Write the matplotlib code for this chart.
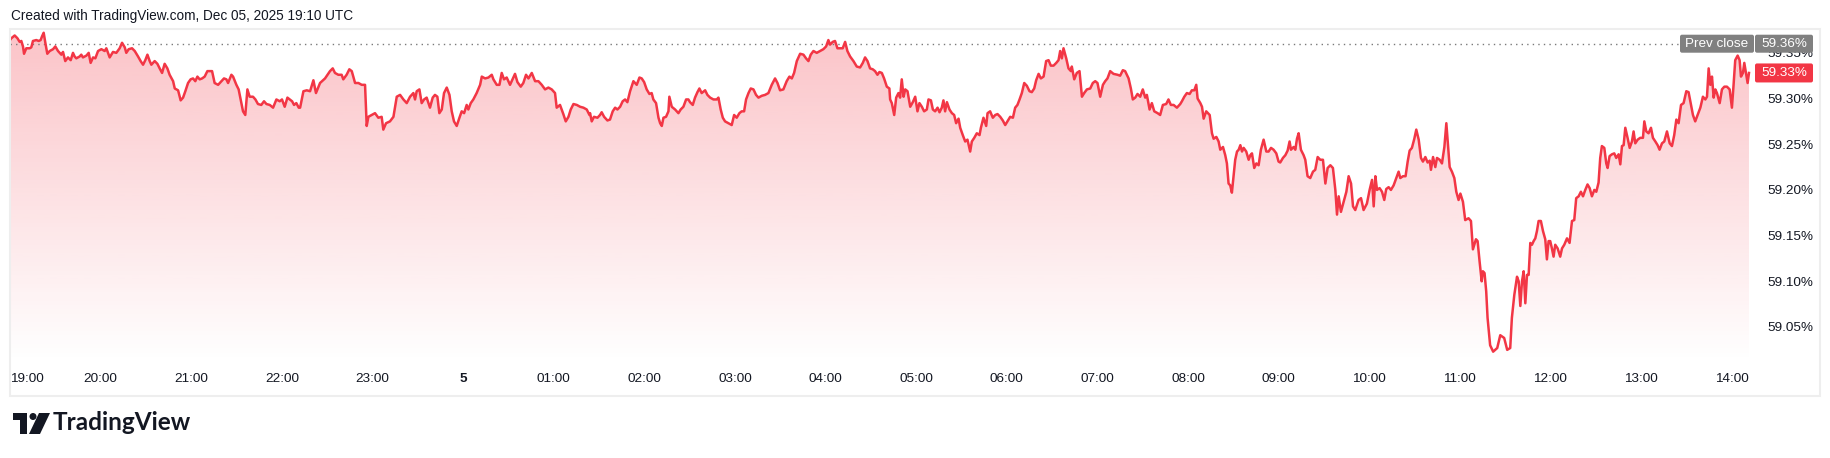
import numpy as np
import matplotlib.pyplot as plt
from matplotlib.patches import FancyBboxPatch, Rectangle, Polygon, Circle
from matplotlib.transforms import IdentityTransform

# minutes after 19:00 (Dec 4) and value in %
minutes = [
    0, 0.9, 3.1, 4.9, 6.4, 7.5, 8.6, 9.3, 10.8, 13.0, 14.1, 15.2, 17.4, 19.0, 20.3, 21.2, 22.3, 23.4, 24.7, 26.3,
    28.5, 30.0, 31.8, 34.0, 35.1, 36.6, 38.4, 40.2, 41.7, 42.8, 43.9, 46.1, 47.2, 48.3, 50.6, 52.1, 53.4, 55.0, 56.5, 58.3,
    60.5, 62.7, 63.8, 64.9, 66.0, 68.2, 70.4, 72.6, 74.2, 76.0, 77.0, 78.6, 80.8, 82.6, 84.8, 86.5, 88.1, 89.6, 91.0, 92.5,
    93.6, 95.8, 97.6, 99.1, 100.7, 102.4, 104.2, 105.7, 108.0, 109.1, 111.3, 113.0, 114.6, 116.1, 117.9, 119.6, 121.2, 122.7, 124.1, 125.6,
    127.2, 128.9, 130.7, 132.2, 133.8, 135.5, 137.8, 140.0, 141.7, 143.3, 144.4, 146.6, 147.7, 149.9, 151.4, 153.2, 154.3, 155.8, 157.2, 158.7,
    160.9, 162.5, 164.2, 166.4, 168.2, 169.8, 172.0, 174.2, 176.4, 178.6, 180.1, 181.9, 183.7, 185.2, 186.8, 188.1, 189.6, 191.2,
    192.1, 194.3, 196.5, 198.7, 200.9, 202.6, 205.3, 208.6, 211.9, 213.7, 215.2, 217.4, 219.6, 220.7, 222.9, 224.7, 226.3, 228.5, 230.7, 232.9,
    235.1, 236.2, 237.3, 239.5, 241.7, 243.9, 246.1, 247.2, 249.0, 251.6, 253.9, 256.1, 258.3, 260.5, 262.7, 264.9, 267.1, 268.2, 269.3, 271.1,
    272.6, 274.2, 275.9, 278.1, 279.9, 281.4, 283.0, 284.3, 285.9, 287.4, 289.2, 291.0, 292.5, 294.0, 295.8, 297.6, 299.1, 300.7, 302.4, 303.5,
    305.1, 306.8, 309.0, 311.3, 312.4, 314.6, 316.8, 319.0, 320.1, 322.3, 324.1, 325.6, 327.1, 328.9, 331.1, 332.2, 334.4, 336.0, 338.2, 339.9,
    341.7, 343.3, 345.5, 347.7, 349.9, 352.1, 354.3, 356.5, 358.7, 360.9, 362.0, 364.2, 366.4, 368.0, 369.8, 371.3, 373.1, 375.3, 377.5, 379.7,
    381.9, 383.7,
    384.1, 385.2, 386.7, 389.0, 390.7, 391.8, 393.4, 395.6, 397.3, 399.1, 400.7, 402.2, 404.0, 405.7, 407.3, 408.8, 410.6, 412.8, 415.0, 416.8,
    418.3, 419.9, 421.6, 423.4, 424.9, 426.0, 427.8, 429.4, 430.5, 431.6, 432.7, 434.4, 436.0, 436.6, 438.2, 440.4, 442.6, 444.1, 445.9, 447.7,
    449.2, 450.3, 452.1, 453.6, 455.2, 456.5, 458.0, 460.3, 461.8, 463.6, 465.8, 468.0, 469.1, 470.6, 472.0, 473.5, 475.7, 477.9, 479.5, 481.2,
    483.0, 484.5, 486.1, 487.4, 489.0, 490.5, 492.3, 494.0, 495.6, 497.8, 500.0, 502.2, 504.4, 506.6, 508.2, 509.9, 512.1, 514.3, 516.1, 517.7,
    519.2, 521.0, 523.2, 525.4, 527.1, 528.7, 530.2, 532.0, 534.2, 536.4, 538.6, 540.4, 541.9, 543.0, 544.8, 546.3, 547.9, 549.7, 551.4, 553.0,
    554.5, 556.3, 558.5, 560.7, 562.9, 564.7, 566.2, 567.8, 569.5, 571.3, 572.8, 574.4, 575.7, 577.3, 578.8, 580.6, 582.3, 582.8,
    583.9, 585.5, 586.8, 588.3, 589.4, 590.5, 591.7, 592.8, 594.3, 596.1, 597.8, 599.4, 600.9, 602.2, 603.8, 605.3, 607.1, 608.2, 609.8, 611.1,
    612.6, 614.2, 615.5, 617.0, 618.1, 619.2, 620.4, 622.1, 623.7, 625.2, 626.5, 628.1, 629.2, 630.9, 632.5, 634.0, 635.8, 636.9, 638.5, 640.2,
    642.0, 642.9, 644.6, 646.4, 647.3, 649.0, 650.8, 652.4, 653.9, 655.7, 657.4, 659.0, 660.5, 662.3, 664.1, 665.6, 667.1, 668.5, 670.0, 671.6,
    673.3, 675.1, 676.6, 678.2, 679.5, 681.1, 682.6, 684.4, 686.1, 687.7, 689.2, 691.0, 692.8, 694.3, 695.4, 696.5, 697.6, 699.4, 700.9, 702.5,
    703.1, 704.7, 706.4, 708.2, 709.8, 711.3, 713.1, 715.3, 717.0, 718.6, 720.1, 721.9, 723.7, 725.2, 726.7, 728.5, 730.7, 733.4, 735.1, 736.9,
    738.4, 740.7, 742.2, 743.5, 745.1, 746.6, 748.4, 750.1, 751.7, 752.8, 754.6, 756.1, 757.7, 759.9, 761.6, 763.4, 765.6, 767.1, 768.7, 770.5,
    772.7, 774.9,
    776.0, 777.6, 779.3, 781.1, 782.6, 784.2, 785.5, 786.4, 788.2, 789.3, 790.4, 792.1, 794.4, 795.9, 797.0, 798.8, 800.3, 801.4, 803.2, 804.7,
    805.8, 806.9, 808.0, 809.1, 810.2, 811.3, 812.5, 813.6, 814.7, 815.8, 816.9, 818.6, 820.2, 821.3, 822.4, 823.9, 825.3, 826.8, 828.3, 830.1,
    831.9, 833.4, 835.0, 836.7, 838.5, 840.0, 841.1, 842.9, 844.5, 846.0, 847.3, 848.2, 850.0, 851.1, 852.2, 853.3, 854.8, 856.6, 857.7, 859.2,
    861.0, 862.8, 864.3, 865.9, 867.6, 869.4, 871.0, 872.5, 874.3, 876.0, 877.6, 878.7, 879.8, 881.3, 883.1, 884.9, 886.4, 888.0, 889.3, 890.8,
    893.0, 894.6, 896.3, 898.5, 900.3, 901.9, 903.0, 904.1, 905.2, 906.9, 908.5, 910.0, 911.3, 912.9, 914.4, 916.2, 918.0, 919.5, 920.6, 922.4,
    924.1, 925.5, 926.8, 928.3, 929.9, 931.2, 932.8, 934.3, 935.6, 937.2, 938.7, 940.1, 940.9, 942.3, 943.8, 944.9, 946.7, 948.2, 949.8, 951.1,
    952.0, 953.3, 954.8, 956.4, 957.7, 959.2, 960.4, 962.1,
    963.6, 965.8, 967.4, 968.7, 970.7, 971.8, 973.1, 974.5, 975.3, 976.4, 977.5, 978.4,
    980.1, 982.1, 984.8, 986.8, 989.4, 991.4, 993.4,
    994.5, 996.1, 997.9, 999.0, 1000.1, 1001.2, 1002.3, 1003.4, 1004.5, 1005.6, 1006.7, 1007.8, 1008.9, 1010.0, 1011.1, 1012.2, 1013.7, 1015.1,
    1016.6, 1017.7, 1018.8, 1019.9, 1021.0, 1022.1, 1023.2, 1024.8, 1026.5, 1027.7, 1029.2, 1031.0, 1032.7, 1034.3, 1035.8, 1037.1, 1038.7, 1040.2,
    1041.6, 1043.1, 1044.6, 1046.0, 1047.5, 1049.1, 1050.4, 1051.9, 1053.0, 1054.1, 1055.7, 1057.0, 1057.9, 1059.2, 1060.8, 1062.3, 1063.6, 1065.2,
    1066.3, 1067.4, 1068.5, 1069.6, 1071.1, 1072.5, 1074.0, 1075.1, 1076.2, 1077.8, 1079.5, 1081.3, 1082.2, 1083.5, 1085.0, 1086.6, 1087.9, 1089.5,
    1091.0, 1092.3, 1093.9, 1095.4, 1097.2, 1099.0, 1100.5, 1102.0, 1103.4, 1104.9, 1106.5, 1108.2, 1110.0, 1111.5, 1113.1, 1114.4, 1115.9, 1117.5,
    1119.3, 1121.0, 1122.6, 1123.7, 1124.8, 1125.9, 1127.0, 1128.1, 1129.2, 1130.3, 1132.1, 1133.6, 1135.2, 1136.9, 1138.7, 1140.2, 1141.3, 1142.4,
    1144.0, 1145.3, 1146.2, 1147.5, 1148.4, 1149.7, 1150.6, 1151.5,
]
values = [
    59.364, 59.366, 59.369, 59.366, 59.362, 59.363, 59.357, 59.349, 59.355, 59.355, 59.356, 59.363, 59.364, 59.363, 59.364, 59.368, 59.372, 59.361, 59.349, 59.352,
    59.354, 59.357, 59.352, 59.348, 59.351, 59.341, 59.345, 59.342, 59.350, 59.346, 59.344, 59.346, 59.348, 59.345, 59.347, 59.350, 59.339, 59.345, 59.344, 59.352,
    59.354, 59.352, 59.355, 59.350, 59.345, 59.351, 59.350, 59.355, 59.361, 59.356, 59.350, 59.354, 59.355, 59.352, 59.346, 59.341, 59.337, 59.342, 59.348, 59.341,
    59.337, 59.341, 59.338, 59.333, 59.328, 59.338, 59.333, 59.326, 59.319, 59.311, 59.309, 59.298, 59.301, 59.308, 59.317, 59.321, 59.322, 59.319, 59.324, 59.321,
    59.322, 59.324, 59.330, 59.330, 59.330, 59.317, 59.315, 59.319, 59.322, 59.321, 59.317, 59.326, 59.324, 59.315, 59.310, 59.295, 59.286, 59.282, 59.310, 59.302,
    59.302, 59.299, 59.294, 59.293, 59.297, 59.294, 59.293, 59.290, 59.299, 59.297, 59.299, 59.291, 59.301, 59.299, 59.297, 59.293, 59.295, 59.290,
    59.290, 59.308, 59.309, 59.308, 59.320, 59.306, 59.317, 59.322, 59.330, 59.333, 59.328, 59.326, 59.326, 59.321, 59.326, 59.332, 59.330, 59.317, 59.317, 59.315,
    59.315, 59.270, 59.280, 59.282, 59.284, 59.279, 59.280, 59.266, 59.273, 59.275, 59.280, 59.302, 59.304, 59.299, 59.295, 59.302, 59.306, 59.299, 59.308, 59.310,
    59.295, 59.299, 59.301, 59.290, 59.301, 59.304, 59.302, 59.284, 59.288, 59.306, 59.312, 59.304, 59.286, 59.275, 59.270, 59.279, 59.286, 59.284, 59.293, 59.288,
    59.295, 59.299, 59.306, 59.315, 59.324, 59.322, 59.323, 59.326, 59.321, 59.315, 59.315, 59.328, 59.321, 59.323, 59.315, 59.319, 59.327, 59.318, 59.313, 59.317,
    59.326, 59.322, 59.328, 59.319, 59.319, 59.315, 59.310, 59.312, 59.310, 59.306, 59.290, 59.293, 59.283, 59.275, 59.280, 59.288, 59.294, 59.293, 59.291, 59.290,
    59.288, 59.282,
    59.284, 59.275, 59.280, 59.279, 59.282, 59.285, 59.280, 59.276, 59.277, 59.286, 59.290, 59.288, 59.291, 59.297, 59.299, 59.296, 59.308, 59.319, 59.315, 59.323,
    59.322, 59.318, 59.310, 59.305, 59.306, 59.299, 59.295, 59.279, 59.273, 59.270, 59.279, 59.280, 59.286, 59.302, 59.291, 59.288, 59.284, 59.288, 59.291, 59.299,
    59.299, 59.296, 59.293, 59.301, 59.307, 59.311, 59.306, 59.309, 59.304, 59.301, 59.299, 59.299, 59.301, 59.288, 59.279, 59.275, 59.273, 59.271, 59.282, 59.279,
    59.284, 59.286, 59.286, 59.299, 59.306, 59.311, 59.310, 59.304, 59.301, 59.303, 59.304, 59.306, 59.315, 59.322, 59.317, 59.309, 59.310, 59.319, 59.324, 59.322,
    59.328, 59.341, 59.349, 59.348, 59.344, 59.341, 59.348, 59.352, 59.350, 59.352, 59.354, 59.357, 59.364, 59.359, 59.362, 59.363, 59.355, 59.355, 59.355, 59.362,
    59.352, 59.346, 59.341, 59.335, 59.334, 59.339, 59.345, 59.341, 59.333, 59.332, 59.330, 59.326, 59.329, 59.328, 59.322, 59.313, 59.311, 59.299,
    59.295, 59.282, 59.301, 59.306, 59.301, 59.321, 59.302, 59.310, 59.308, 59.291, 59.296, 59.302, 59.286, 59.295, 59.291, 59.286, 59.288, 59.299, 59.298, 59.288,
    59.286, 59.290, 59.285, 59.290, 59.298, 59.286, 59.296, 59.288, 59.284, 59.282, 59.273, 59.278, 59.268, 59.260, 59.253, 59.255, 59.242, 59.253, 59.257, 59.262,
    59.260, 59.268, 59.279, 59.270, 59.284, 59.286, 59.279, 59.282, 59.283, 59.280, 59.276, 59.271, 59.275, 59.280, 59.279, 59.290, 59.293, 59.299, 59.306, 59.317,
    59.314, 59.308, 59.307, 59.311, 59.320, 59.327, 59.322, 59.324, 59.341, 59.342, 59.336, 59.336, 59.339, 59.342, 59.352, 59.344, 59.355, 59.344, 59.333, 59.330,
    59.335, 59.321, 59.328, 59.330, 59.302, 59.306, 59.310, 59.311, 59.317, 59.319, 59.317, 59.302, 59.315, 59.319, 59.322, 59.330, 59.327, 59.326, 59.325, 59.331,
    59.330, 59.322, 59.311, 59.299, 59.301, 59.305, 59.302, 59.310, 59.301, 59.304, 59.288, 59.295, 59.286, 59.284, 59.282, 59.293, 59.294, 59.299, 59.293, 59.293,
    59.290, 59.294,
    59.297, 59.302, 59.306, 59.305, 59.309, 59.309, 59.315, 59.300, 59.295, 59.291, 59.278, 59.286, 59.282, 59.262, 59.256, 59.258, 59.253, 59.244, 59.247, 59.238,
    59.229, 59.207, 59.205, 59.197, 59.215, 59.233, 59.242, 59.244, 59.249, 59.242, 59.246, 59.242, 59.233, 59.238, 59.240, 59.224, 59.229, 59.227, 59.244, 59.255,
    59.242, 59.242, 59.246, 59.244, 59.240, 59.231, 59.230, 59.235, 59.238, 59.243, 59.253, 59.244, 59.247, 59.244, 59.256, 59.262, 59.244, 59.238, 59.233, 59.215,
    59.213, 59.220, 59.222, 59.236, 59.233, 59.233, 59.207, 59.224, 59.227, 59.224, 59.200, 59.173, 59.193, 59.176, 59.187, 59.198, 59.215, 59.207, 59.182, 59.178,
    59.189, 59.191, 59.178, 59.185, 59.200, 59.211, 59.182, 59.215, 59.200, 59.202, 59.198, 59.189, 59.201, 59.203, 59.200, 59.205, 59.213, 59.220, 59.213, 59.215,
    59.215, 59.231, 59.243, 59.246, 59.256, 59.266, 59.255, 59.235, 59.231, 59.236, 59.230, 59.232, 59.222, 59.236, 59.225, 59.235, 59.233, 59.229, 59.247, 59.273,
    59.253, 59.225, 59.220, 59.213, 59.198, 59.189, 59.196, 59.187,
    59.167, 59.169, 59.166, 59.135, 59.146, 59.144, 59.122, 59.100, 59.111, 59.109, 59.089, 59.060,
    59.030, 59.023, 59.027, 59.041, 59.038, 59.025, 59.027,
    59.060, 59.085, 59.105, 59.100, 59.073, 59.100, 59.111, 59.076, 59.107, 59.107, 59.142, 59.140, 59.144, 59.147, 59.155, 59.166, 59.166, 59.155,
    59.146, 59.124, 59.144, 59.144, 59.136, 59.127, 59.140, 59.136, 59.127, 59.136, 59.140, 59.147, 59.142, 59.166, 59.167, 59.191, 59.193, 59.198,
    59.193, 59.200, 59.206, 59.202, 59.193, 59.200, 59.198, 59.208, 59.235, 59.248, 59.246, 59.229, 59.224, 59.237, 59.239, 59.240, 59.235, 59.239,
    59.228, 59.248, 59.249, 59.268, 59.257, 59.246, 59.253, 59.264, 59.251, 59.255, 59.257, 59.257, 59.275, 59.264, 59.262, 59.268, 59.257, 59.253,
    59.249, 59.244, 59.251, 59.253, 59.264, 59.251, 59.248, 59.260, 59.277, 59.273, 59.293, 59.295, 59.308, 59.307, 59.293, 59.282, 59.275, 59.282,
    59.290, 59.302, 59.299, 59.302, 59.333, 59.315, 59.324, 59.301, 59.310, 59.306, 59.295, 59.310, 59.313, 59.313, 59.310, 59.290, 59.315, 59.342,
    59.347, 59.342, 59.324, 59.328, 59.339, 59.326, 59.317, 59.328,
]

prev_close = 59.36
time_ticks = [0, 60, 120, 180, 240, 300, 360, 420, 480, 540, 600, 660, 720, 780, 840, 900, 960, 1020, 1080, 1140]
time_labels = ["19:00", "20:00", "21:00", "22:00", "23:00", "5", "01:00", "02:00", "03:00", "04:00",
               "05:00", "06:00", "07:00", "08:00", "09:00", "10:00", "11:00", "12:00", "13:00", "14:00"]
price_ticks = [59.05, 59.10, 59.15, 59.20, 59.25, 59.30, 59.35]

RED = "#f23645"
TXT = "#131722"
GRAY = "#808080"

plt.rcParams['font.family'] = ['Liberation Sans', 'DejaVu Sans']

W, H = 1831, 458
fig = plt.figure(figsize=(W / 100, H / 100), dpi=100)
pix = IdentityTransform()

# plot area in pixels: x 10..1752, y 30..362 (from top)
ax = fig.add_axes([10 / W, 1 - 362 / H, 1742 / W, 332 / H])
xmax = 1153.5
ymin, ymax = 59.0117, 59.375

# gradient area under the line
fill = ax.fill_between(minutes, values, ymin, color="none", lw=0)
grad = np.zeros((256, 1, 4))
grad[..., :3] = plt.matplotlib.colors.to_rgb(RED)
grad[:, 0, 3] = np.linspace(0.30, 0.0, 256)
im = ax.imshow(grad, extent=[0, xmax, ymin, ymax], aspect="auto", origin="upper", zorder=1)
im.set_clip_path(fill.get_paths()[0], transform=ax.transData)

ax.plot(minutes, values, color=RED, lw=1.8, zorder=3, solid_joinstyle="round")
ax.axhline(prev_close, color="#7a7a7a", lw=1, ls=(0, (1, 3)), zorder=2)

ax.set_xlim(0, xmax)
ax.set_ylim(ymin, ymax)
for s in ax.spines.values():
    s.set_visible(False)

ax.set_xticks(time_ticks)
ax.set_xticklabels(time_labels)
ax.tick_params(axis="x", length=0, pad=8, labelsize=9.7, labelcolor=TXT)
xl = ax.get_xticklabels()
xl[0].set_ha("left")
xl[5].set_fontweight("bold")

ax.yaxis.tick_right()
ax.set_yticks(price_ticks)
ax.set_yticklabels([f"{p:.2f}%" for p in price_ticks])
ax.tick_params(axis="y", length=0, pad=11, labelsize=9.7, labelcolor=TXT)

# outer frame
fig.add_artist(Rectangle((10, H - 396), 1810, 367, transform=pix, fill=False, ec="#eeeeee", lw=1.5))

fig.text(11, H - 16, "Created with TradingView.com, Dec 05, 2025 19:10 UTC", transform=pix,
         fontsize=9.8, color=TXT, va="center")

def label_box(x0, x1, yc, h, color, text):
    fig.add_artist(FancyBboxPatch((x0, yc - h / 2), x1 - x0, h, transform=pix,
                                  boxstyle="round,pad=0,rounding_size=2", fc=color, ec="none", zorder=5))
    fig.text((x0 + x1) / 2, yc, text, transform=pix, color="white", fontsize=9.7,
             ha="center", va="center", zorder=6)

y_prev = ax.transData.transform((0, prev_close))[1]
y_last = ax.transData.transform((0, values[-1]))[1]
label_box(1680, 1754, y_prev, 18, GRAY, "Prev close")
label_box(1755, 1813, y_prev, 18, GRAY, f"{prev_close:.2f}%")
label_box(1755, 1813, y_last, 19, RED, f"{values[-1]:.2f}%")

# TradingView logo
lx, ly = 13, H - 413
fig.add_artist(Polygon([(lx, ly), (lx + 14, ly), (lx + 14, ly - 21), (lx + 7, ly - 21), (lx + 7, ly - 7), (lx, ly - 7)],
                       closed=True, transform=pix, fc=TXT, ec="none"))
fig.add_artist(Circle((lx + 20, ly - 3.5), 3.5, transform=pix, fc=TXT, ec="none"))
fig.add_artist(Polygon([(lx + 26, ly), (lx + 37, ly), (lx + 27, ly - 21), (lx + 16, ly - 21)],
                       closed=True, transform=pix, fc=TXT, ec="none"))
fig.text(53, H - 423, "TradingView", transform=pix, fontsize=17.5, fontweight="bold",
         family=["Lato", "DejaVu Sans"], color=TXT, va="center")

fig.savefig("out.png", dpi=100)
